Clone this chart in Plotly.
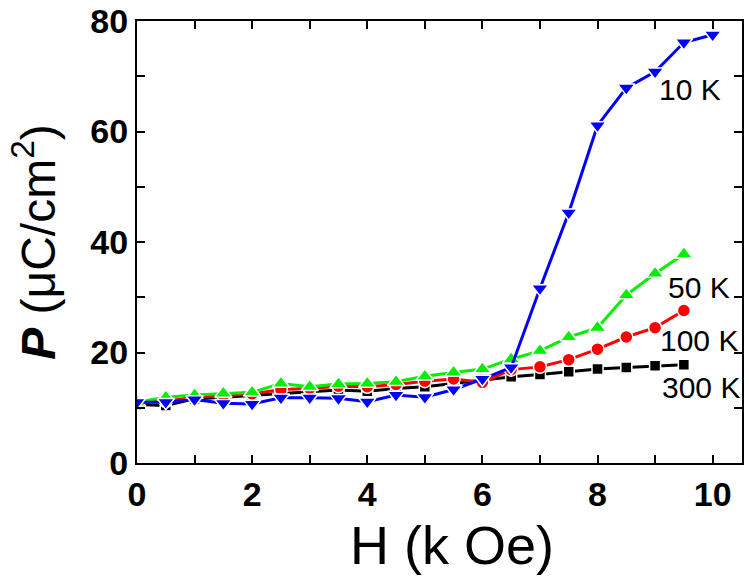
import plotly.graph_objects as go

H = [0, 0.5, 1, 1.5, 2, 2.5, 3, 3.5, 4, 4.5, 5, 5.5, 6, 6.5, 7, 7.5, 8, 8.5, 9, 9.5]
H_10K = H + [10]

P_300K = [10.6, 10.4, 11.6, 11.9, 12.2, 12.5, 12.8, 13.2, 13.0, 13.5, 13.8, 14.4, 15.1, 15.6,
          16.0, 16.5, 17.0, 17.3, 17.6, 17.8]
P_100K = [11.0, 11.2, 11.9, 12.2, 12.5, 13.3, 13.5, 13.9, 13.8, 14.2, 14.8, 15.2, 14.6, 16.9,
          17.4, 18.7, 20.6, 22.8, 24.5, 27.6]
P_50K = [11.0, 11.9, 12.3, 12.6, 12.8, 14.4, 13.8, 14.3, 14.4, 14.7, 15.7, 16.4, 17.0, 18.8,
         20.3, 22.8, 24.5, 30.4, 34.3, 37.8]
P_10K = [11.0, 11.0, 11.5, 10.8, 10.7, 11.8, 11.8, 11.7, 11.1, 12.3, 11.9, 13.3, 15.2, 17.3,
         31.6, 45.3, 61.1, 67.9, 70.8, 76.1, 77.5]

labels = ["10 K", "50 K", "100 K", "300 K"]
label_x = [9.61, 9.76, 9.76, 9.79]
label_y = [67.6, 31.8, 22.2, 13.7]

x_ticks = [0, 2, 4, 6, 8, 10]
y_ticks = [0, 20, 40, 60, 80]
x_title = "H (k Oe)"
y_title = "<b><i>P</i></b> (μC/cm<sup>2</sup>)"

fig = go.Figure()

def add(x, y, color, symbol, size):
    fig.add_trace(go.Scatter(
        x=x, y=y, mode="lines+markers",
        line=dict(color=color, width=3),
        marker=dict(color=color, symbol=symbol, size=size,
                    line=dict(color="white", width=1.5)),
        showlegend=False))

add(H, P_300K, "#000000", "square", 11)
add(H, P_100K, "#ff0000", "circle", 13)
add(H, P_50K, "#00ee00", "triangle-up", 15)
add(H_10K, P_10K, "#0000ff", "triangle-down", 15)

for t, x, y in zip(labels, label_x, label_y):
    fig.add_annotation(x=x, y=y, text=t, showarrow=False,
                       font=dict(family="Liberation Sans, Arial", size=30, color="black"))

# x-axis title placed as a paper annotation
fig.add_annotation(xref="paper", yref="paper", x=0.52, y=-0.185,
                   xanchor="center", yanchor="middle", showarrow=False,
                   text=x_title,
                   font=dict(family="Liberation Sans, Arial", size=54, color="black"))

axis_common = dict(
    showline=True, linewidth=2, linecolor="black", mirror="ticks",
    ticks="inside", ticklen=8, tickwidth=2, tickcolor="black",
    showgrid=False, zeroline=False, ticklabeloverflow="allow",
    tickfont=dict(family="Liberation Sans, Arial", size=34, color="black"),
)

fig.update_xaxes(
    range=[0, 10.51], tickmode="array", tickvals=x_ticks,
    ticktext=[f"<b>{v}</b>" for v in x_ticks],
    minor=dict(dtick=1, ticks="inside", ticklen=8, tickwidth=2, tickcolor="black"),
    **axis_common)
fig.update_yaxes(
    range=[0, 80], tickmode="array", tickvals=y_ticks,
    ticktext=[f"<b>{v}</b>" for v in y_ticks],
    minor=dict(dtick=10, ticks="inside", ticklen=8, tickwidth=2, tickcolor="black"),
    title=dict(text=y_title, standoff=20,
               font=dict(family="Liberation Sans, Arial", size=48, color="black")),
    **axis_common)

fig.update_layout(
    width=749, height=578,
    margin=dict(l=137, r=7, t=21, b=115, autoexpand=False),
    paper_bgcolor="white", plot_bgcolor="white",
)

fig.write_html("out.html",
               config={"displayModeBar": False},
               post_script="document.body.style.margin='0';"
                           "document.body.style.overflow='hidden';")
